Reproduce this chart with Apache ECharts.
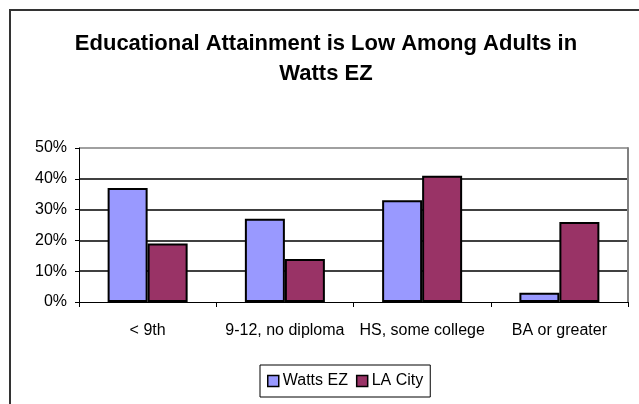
<!DOCTYPE html>
<html>
<head>
<meta charset="utf-8">
<script src="https://cdn.jsdelivr.net/npm/echarts@6/dist/echarts.min.js"></script>
<style>
    html, body { margin: 0; padding: 0; background: #fff; }
    #main { width: 639px; height: 404px; }
</style>
</head>
<body>
<div id="main"></div>
<script>
var categories = ['< 9th', '9-12, no diploma', 'HS, some college', 'BA or greater'];
var wattsEZ = [37, 27, 33, 3];
var laCity = [19, 14, 41, 26];
var yTicks = [0, 10, 20, 30, 40, 50];

var font = 'Liberation Sans, Arial, sans-serif';

var myChart = echarts.init(document.getElementById('main'));

// grid lines are black, the top one (50%) is the gray plot frame
var splitColors = yTicks.map(function (t, i) {
    return i === yTicks.length - 1 ? '#808080' : '#000';
});

var option = {
    backgroundColor: '#fff',
    animation: false,
    textStyle: { fontFamily: font },
    title: {
        text: 'Educational Attainment is Low Among Adults in\nWatts EZ',
        left: 321,
        top: 24,
        textAlign: 'center',
        textStyle: {
            fontFamily: font,
            fontSize: 22,
            fontWeight: 'bold',
            color: '#000',
            lineHeight: 30
        }
    },
    graphic: [
        {
            // outer chart frame, runs off right/bottom like the original
            type: 'rect',
            shape: { x: 10, y: 10, width: 700, height: 500 },
            style: { fill: 'none', stroke: '#333', lineWidth: 2 },
            silent: true
        }
    ],
    legend: {
        data: ['Watts EZ', 'LA City'],
        left: 260,
        top: 365,
        padding: [8, 7],
        itemGap: 8,
        itemWidth: 11,
        itemHeight: 11,
        icon: 'rect',
        borderColor: '#000',
        borderWidth: 1,
        textStyle: { fontFamily: font, fontSize: 16, color: '#000', padding: [0, 0, 0, -1] },
        itemStyle: { borderColor: '#000', borderWidth: 1.5 }
    },
    grid: {
        left: 79,
        right: 11,
        top: 148,
        bottom: 102
    },
    xAxis: {
        type: 'category',
        data: categories,
        axisLine: { lineStyle: { color: '#000', width: 1 } },
        axisTick: { show: true, length: 5, lineStyle: { color: '#000' } },
        axisLabel: { margin: 21, fontSize: 16, color: '#000', fontFamily: font, interval: 0 },
        splitLine: { show: false }
    },
    yAxis: [
        {
            type: 'value',
            min: yTicks[0],
            max: yTicks[yTicks.length - 1],
            interval: 10,
            axisLine: { show: true, lineStyle: { color: '#000', width: 1 } },
            axisTick: { show: true, length: 4, lineStyle: { color: '#000' } },
            axisLabel: {
                margin: 12,
                fontSize: 16,
                color: '#000',
                fontFamily: font,
                formatter: function (v) { return v + '%'; }
            },
            splitLine: {
                show: true,
                showMinLine: false,
                showMaxLine: true,
                lineStyle: { color: splitColors.slice(1), width: 1.5 }
            }
        },
        {
            // gray frame on right of plot area
            type: 'value',
            position: 'right',
            min: 0,
            max: 50,
            interval: 10,
            axisLine: { show: true, onZero: false, lineStyle: { color: '#808080', width: 2 } },
            axisTick: { show: false },
            axisLabel: { show: false },
            splitLine: { show: false }
        }
    ],
    series: [
        {
            name: 'Watts EZ',
            type: 'bar',
            data: wattsEZ,
            barWidth: 40,
            barGap: '0%',
            itemStyle: { color: '#9999FF', borderColor: '#000', borderWidth: 2 }
        },
        {
            name: 'LA City',
            type: 'bar',
            data: laCity,
            barWidth: 40,
            barGap: '0%',
            itemStyle: { color: '#993366', borderColor: '#000', borderWidth: 2 }
        }
    ]
};

myChart.setOption(option);
</script>
</body>
</html>
